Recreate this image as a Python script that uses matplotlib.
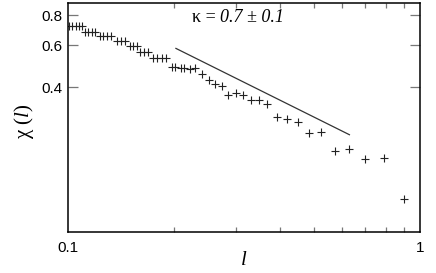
import matplotlib
matplotlib.use("Agg")
import matplotlib.pyplot as plt
from matplotlib.ticker import FixedLocator, NullFormatter, NullLocator
from matplotlib.transforms import offset_copy

# correlation function chi(l)
l_vals = [0.1009, 0.1031, 0.1054, 0.1077, 0.1100,
          0.1120, 0.1144, 0.1170, 0.1196,
          0.1235, 0.1262, 0.1291, 0.1325,
          0.1378, 0.1414, 0.1455,
          0.1503, 0.1536, 0.1570,
          0.1605, 0.1647, 0.1691,
          0.1751, 0.1797, 0.1849, 0.1902,
          0.1975, 0.2018, 0.2100, 0.2140, 0.2230, 0.2300,
          0.2412, 0.2520, 0.2621, 0.2739,
          0.2860, 0.3001, 0.3141, 0.3311, 0.3495, 0.3690,
          0.3940, 0.4207, 0.4502, 0.4849, 0.5245,
          0.5745, 0.6310, 0.7007, 0.7900, 0.9025]
chi_vals = [0.724, 0.724, 0.724, 0.724, 0.724,
            0.683, 0.683, 0.683, 0.683,
            0.657, 0.657, 0.657, 0.657,
            0.625, 0.625, 0.625,
            0.597, 0.597, 0.597,
            0.564, 0.564, 0.564,
            0.532, 0.532, 0.532, 0.532,
            0.488, 0.488, 0.481, 0.481, 0.479, 0.481,
            0.453, 0.431, 0.414, 0.405,
            0.372, 0.380, 0.371, 0.354, 0.354, 0.340,
            0.300, 0.295, 0.287, 0.257, 0.261,
            0.217, 0.221, 0.2015, 0.203, 0.137]

# power-law guide, slope -kappa
l_fit = [0.203, 0.631]
chi_fit = [0.582, 0.254]

plt.rcParams["mathtext.fontset"] = "custom"
plt.rcParams["mathtext.rm"] = "Liberation Serif"
plt.rcParams["mathtext.it"] = "Liberation Serif:italic"
plt.rcParams["mathtext.bf"] = "Liberation Serif:bold"

fig = plt.figure(figsize=(4.36, 2.73), dpi=100)
ax = fig.add_axes([0.155, 0.151, 0.808, 0.838])

ax.plot(l_vals, chi_vals, "+", color="#222222", ms=6, mew=0.8)
ax.plot(l_fit, chi_fit, "-", color="#333333", lw=0.9)

ax.set_xscale("log")
ax.set_yscale("log")
ax.set_xlim(0.1, 1)
ax.set_ylim(0.1, 0.9)

ax.xaxis.set_major_locator(FixedLocator([0.1, 1]))
ax.xaxis.set_major_formatter(plt.FixedFormatter(["0.1", "1"]))
ax.xaxis.set_minor_locator(FixedLocator([0.2, 0.3, 0.4, 0.5, 0.6, 0.7, 0.8, 0.9]))
ax.xaxis.set_minor_formatter(NullFormatter())
ax.yaxis.set_major_locator(FixedLocator([0.4, 0.6, 0.8]))
ax.yaxis.set_major_formatter(plt.FixedFormatter(["0.4", "0.6", "0.8"]))
ax.yaxis.set_minor_locator(NullLocator())

ax.tick_params(which="both", direction="in", top=True, right=True,
               color="#777777", width=0.9, labelsize=11)
ax.tick_params(which="minor", length=3.5)
ax.tick_params(axis="y", which="major", length=7.5, pad=4)
ax.tick_params(axis="x", which="major", length=0, pad=7)
for lab in ax.get_xticklabels() + ax.get_yticklabels():
    lab.set_family(["Liberation Sans", "DejaVu Sans"])
for s in ax.spines.values():
    s.set_linewidth(1.1)

ax.set_xlabel(r"$l$", fontsize=15)
ax.xaxis.set_label_coords(0.5, -0.12)
ax.xaxis.label.set_va("center")
ax.set_ylabel(r"$\mathrm{\chi}\ (l)$", fontsize=15)
ax.yaxis.set_label_coords(-0.124, 0.48)
ax.yaxis.label.set_va("center")

# exponent annotation: upright "kappa =", italic value
serif = ["Liberation Serif", "DejaVu Serif"]
t1 = ax.text(0.352, 0.935, "\u03ba = ", transform=ax.transAxes,
             fontsize=13, family=serif, ha="left", va="center")
fig.canvas.draw()
w = t1.get_window_extent().width * 72 / fig.dpi
ax.text(0.352, 0.935, "0.7 \u00b1 0.1",
        transform=offset_copy(ax.transAxes, fig=fig, x=w, y=0, units="points"),
        fontsize=13, family=serif, style="italic", ha="left", va="center")

fig.savefig("out.png", dpi=100)
